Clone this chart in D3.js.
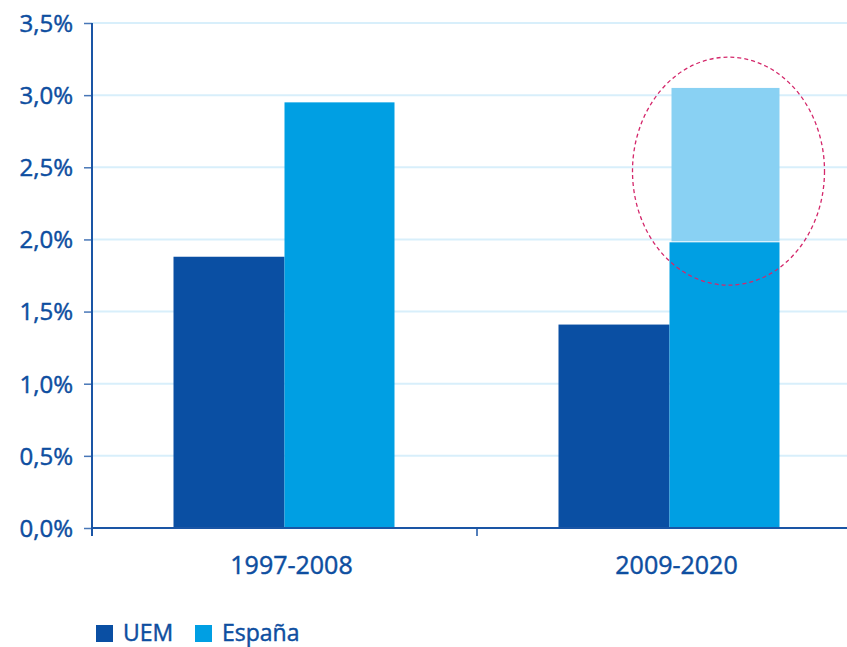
<!DOCTYPE html>
<html><head><meta charset="utf-8">
<script src="https://cdn.jsdelivr.net/npm/d3@7"></script>
<style>body{margin:0;background:#fff}svg{display:block;font-family:"Open Sans","Noto Sans",sans-serif}
svg text{stroke:#0d4ea0;stroke-width:0.45px}</style>
</head><body><svg id="c" width="847" height="647"></svg>
<script>
const periods = ["1997-2008", "2009-2020"];
const seriesNames = ["UEM", "España"];
const uem = [1.88, 1.41];
const espana = [2.95, 1.98];
const espanaExtra = [0, 3.05]; // highlighted top (light) for 2009-2020
const yTicks = [0, 0.5, 1.0, 1.5, 2.0, 2.5, 3.0, 3.5];
const yTickLabels = ["0,0%", "0,5%", "1,0%", "1,5%", "2,0%", "2,5%", "3,0%", "3,5%"];

const colors = {UEM: "#0a4fa3", "España": "#009fe3", light: "#89d1f3", axis: "#1a55a5", grid: "#d8effb", text: "#0d4ea0", ellipse: "#d4286b"};
const FONT = "24px";
const svg = d3.select("#c");
const x = d3.scaleBand().domain(periods).range([92, 862]).padding(0);
const y = d3.scaleLinear().domain([0, 3.5]).range([528, 23]);
const barW = 110;

// grid
svg.append("g").selectAll("line").data(yTicks.filter(d => d > 0)).join("line")
  .attr("x1", 92).attr("x2", 847).attr("y1", d => y(d)).attr("y2", d => y(d))
  .attr("stroke", colors.grid).attr("stroke-width", 2);

// bars
const g = svg.append("g");
g.selectAll(".u").data(periods).join("rect")
  .attr("x", d => x(d) + x.bandwidth()/2 - barW - 1).attr("width", barW + 1)
  .attr("y", (d,i) => y(uem[i])).attr("height", (d,i) => y(0) - y(uem[i])).attr("fill", colors.UEM);
g.selectAll(".e").data(periods).join("rect")
  .attr("x", d => x(d) + x.bandwidth()/2).attr("width", barW)
  .attr("y", (d,i) => y(espana[i])).attr("height", (d,i) => y(0) - y(espana[i])).attr("fill", colors["España"]);
g.selectAll(".l").data(periods.filter((d,i) => espanaExtra[i] > 0)).join("rect")
  .attr("x", d => x(d) + x.bandwidth()/2 + 2).attr("width", barW - 2)
  .attr("y", d => y(espanaExtra[periods.indexOf(d)]))
  .attr("height", d => { const i = periods.indexOf(d); return y(espana[i]) - y(espanaExtra[i]) - 1; })
  .attr("fill", colors.light);

// ellipse highlight
const p2 = periods[1];
const ex = x(p2) + x.bandwidth()/2 + barW/2 + 4;
svg.append("ellipse").attr("cx", ex).attr("cy", (y(espanaExtra[1]) + y(espana[1]))/2 + 6)
  .attr("rx", 96).attr("ry", 114).attr("fill", "none")
  .attr("stroke", colors.ellipse).attr("stroke-width", 1.3).attr("stroke-dasharray", "4,3");

// y axis
const ya = svg.append("g").attr("transform", "translate(92,0)")
  .call(d3.axisLeft(y).tickValues(yTicks).tickFormat((d,i) => yTickLabels[i]).tickSize(8).tickPadding(11));
ya.select(".domain").attr("stroke", colors.axis).attr("stroke-width", 2).attr("d", "M0,23V536");
ya.selectAll(".tick line").attr("stroke", colors.axis).attr("stroke-width", 1.5).attr("opacity", 0.8);
ya.selectAll(".tick text").attr("fill", colors.text).style("font-size", FONT)
  .style("font-family", "'Open Sans','Noto Sans',sans-serif").attr("dy", "0.35em");

// x axis
const xa = svg.append("g").attr("transform", "translate(0,528)");
xa.append("line").attr("x1", 92).attr("x2", 847).attr("y1", 0).attr("y2", 0).attr("stroke", colors.axis).attr("stroke-width", 2);
xa.selectAll(".xt").data([x.range()[0] + x.bandwidth()]).join("line")
  .attr("x1", d => d).attr("x2", d => d).attr("y1", 0).attr("y2", 8).attr("stroke", colors.axis).attr("stroke-width", 1.5);
xa.selectAll("text").data(periods).join("text")
  .attr("x", d => x(d) + x.bandwidth()/2 + 7).attr("y", 46).attr("text-anchor", "middle")
  .attr("fill", colors.text).style("font-size", "25px").text(d => d);

// legend
const leg = svg.append("g").attr("transform", "translate(96,624)");
const lx = [0, 99];
seriesNames.forEach((s, i) => {
  leg.append("rect").attr("x", lx[i]).attr("y", 1).attr("width", 17).attr("height", 17).attr("fill", colors[s]);
  leg.append("text").attr("x", lx[i] + 27).attr("y", 17).attr("fill", colors.text).style("font-size", "23px").text(s);
});
</script></body></html>
